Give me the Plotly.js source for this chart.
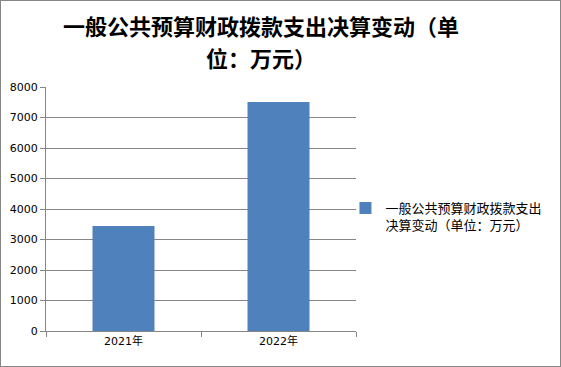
<!DOCTYPE html>
<html><head><meta charset="utf-8">
<script src="https://cdn.plot.ly/plotly-3.0.1.min.js"></script>
<style>body{margin:0;}#frame{position:absolute;left:0;top:0;width:561px;height:367px;box-sizing:border-box;border:1px solid #868686;pointer-events:none;}</style>
</head><body>
<div id="chart" style="width:561px;height:367px;"></div>
<div id="frame"></div>
<script>
const categories = ["2021年", "2022年"];
const values = [3440, 7510];
const seriesName = "一般公共预算财政拨款支出<br>决算变动（单位：万元）";
const titleLines = ["一般公共预算财政拨款支出决算变动（单", "位：万元）"];
const yTicks = [0,1000,2000,3000,4000,5000,6000,7000,8000];

const plotTop = 87, plotH = 244, plotL = 46, plotW = 310;
const titleCentersY = [25, 57];
const titleAnn = titleLines.map((t, i) => ({
  text: "<b>" + t + "</b>", xref: "paper", yref: "paper",
  x: (261 - plotL) / plotW, xanchor: "center",
  y: (plotTop + plotH - titleCentersY[i]) / plotH, yanchor: "middle", showarrow: false,
  font: {size: 22, family: "Noto Sans CJK SC", color: "#000"}
}));

Plotly.newPlot("chart", [{
  type: "bar", x: categories, y: values, name: seriesName,
  marker: {color: "#4f81bd"}, showlegend: true
}], {
  width: 561, height: 367,
  margin: {l: 46, r: 205, t: 87, b: 36, autoexpand: false},
  paper_bgcolor: "#ffffff", plot_bgcolor: "#ffffff",
  bargap: 0.6,
  font: {family: "Noto Sans CJK SC, DejaVu Sans, sans-serif", color: "#000"},
  annotations: titleAnn,
  xaxis: {type: "category", tickson: "boundaries", ticks: "outside", ticklen: 5, tickcolor: "#868686",
    showline: true, linecolor: "#868686", linewidth: 1, showgrid: false,
    tickfont: {size: 11, family: "DejaVu Sans, Noto Sans CJK SC"}},
  yaxis: {range: [0, 8000], tickvals: yTicks, ticktext: yTicks.map(String), ticks: "outside", ticklen: 5, tickcolor: "#868686",
    showline: true, linecolor: "#868686", gridcolor: "#868686", gridwidth: 1, zeroline: false,
    tickfont: {size: 11, family: "DejaVu Sans"}},
  legend: {x: 0.966, xanchor: "left", y: 0.565, yanchor: "top", valign: "top",
    font: {size: 13, family: "Noto Sans CJK SC"}, bgcolor: "rgba(0,0,0,0)"}
}, {displayModeBar: false, staticPlot: true});
</script>
</body></html>
